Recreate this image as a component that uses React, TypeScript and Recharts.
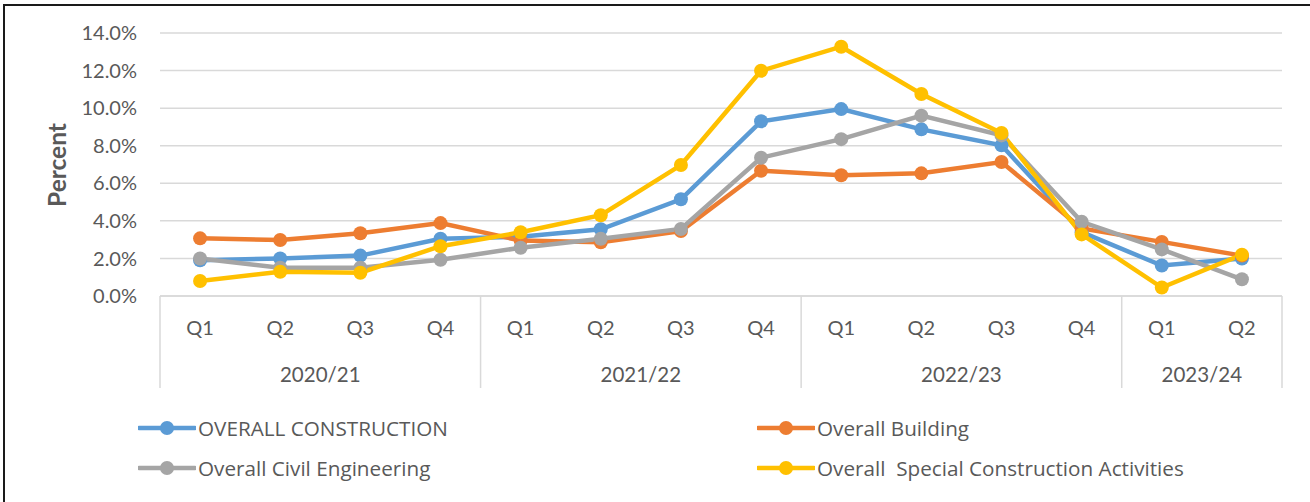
import React from 'react';
import { LineChart, Line, XAxis, YAxis, CartesianGrid } from 'recharts';

const QUARTERS = ['Q1', 'Q2', 'Q3', 'Q4', 'Q1', 'Q2', 'Q3', 'Q4', 'Q1', 'Q2', 'Q3', 'Q4', 'Q1', 'Q2'];
const FISCAL_YEARS = [
  '2020/21', '2020/21', '2020/21', '2020/21',
  '2021/22', '2021/22', '2021/22', '2021/22',
  '2022/23', '2022/23', '2022/23', '2022/23',
  '2023/24', '2023/24'
];

const OVERALL_CONSTRUCTION = [1.9, 2.0, 2.15, 3.05, 3.15, 3.55, 5.15, 9.3, 9.95, 8.87, 8.02, 3.4, 1.62, 2.0];
const OVERALL_BUILDING = [3.07, 2.98, 3.34, 3.88, 2.95, 2.86, 3.46, 6.67, 6.43, 6.53, 7.13, 3.6, 2.88, 2.15];
const OVERALL_CIVIL = [2.0, 1.5, 1.5, 1.93, 2.57, 3.05, 3.57, 7.36, 8.35, 9.6, 8.55, 3.95, 2.48, 0.89];
const OVERALL_SPECIAL = [0.8, 1.29, 1.24, 2.65, 3.39, 4.3, 6.97, 11.99, 13.27, 10.75, 8.68, 3.28, 0.45, 2.2];

const Y_TICKS = [0, 2, 4, 6, 8, 10, 12, 14];

const SERIES = [
  { key: 'construction', name: 'OVERALL CONSTRUCTION', color: '#5B9BD5', values: OVERALL_CONSTRUCTION },
  { key: 'building', name: 'Overall Building', color: '#ED7D31', values: OVERALL_BUILDING },
  { key: 'civil', name: 'Overall Civil Engineering', color: '#A5A5A5', values: OVERALL_CIVIL },
  { key: 'special', name: 'Overall  Special Construction Activities', color: '#FFC000', values: OVERALL_SPECIAL }
];

const data = QUARTERS.map((q, i) => {
  const row: Record<string, string | number> = { q, year: FISCAL_YEARS[i] };
  SERIES.forEach(s => { row[s.key] = s.values[i]; });
  return row;
});

const FONT = 'Lato, "Liberation Sans", sans-serif';
const LEGEND_FONT = '"Open Sans", Lato, sans-serif';
const TEXT = '#595959';
const GRID = '#d9d9d9';
const W = 1310;
const H = 502;
const PLOT_LEFT = 160;
const PLOT_RIGHT = 1282;
const STEP = (PLOT_RIGHT - PLOT_LEFT) / QUARTERS.length;

const QuarterTick = (props: any) => {
  const { x, y, payload } = props;
  const i = payload.index;
  const yr = FISCAL_YEARS[i];
  const isFirst = i === 0 || FISCAL_YEARS[i - 1] !== yr;
  const isLast = i === FISCAL_YEARS.length - 1;
  const groupSize = FISCAL_YEARS.filter(v => v === yr).length;
  return (
    <g>
      <text x={x} y={y + 31} textAnchor="middle" dominantBaseline="central" fill={TEXT} fontSize={20} fontFamily={FONT}>
        {payload.value}
      </text>
      {isFirst && (
        <>
          <line x1={x - STEP / 2} x2={x - STEP / 2} y1={y} y2={y + 92} stroke={GRID} strokeWidth={1.5} />
          <text x={x + ((groupSize - 1) * STEP) / 2} y={y + 78} textAnchor="middle" dominantBaseline="central" fill={TEXT} fontSize={20.5} fontFamily={FONT}>
            {yr}
          </text>
        </>
      )}
      {isLast && <line x1={x + STEP / 2} x2={x + STEP / 2} y1={y} y2={y + 92} stroke={GRID} strokeWidth={1.5} />}
    </g>
  );
};

const PercentLabel = () => (
  <text x={56} y={165} transform="rotate(-90 56 165)" textAnchor="middle" dominantBaseline="central" fill={TEXT} fontSize={24.5} fontWeight="bold" fontFamily={FONT}>
    Percent
  </text>
);

const LegendItem = ({ name, color, left, top }: { name: string; color: string; left: number; top: number }) => (
  <div style={{ position: 'absolute', left, top: top - 12, height: 24, display: 'flex', alignItems: 'center' }}>
    <svg width={58} height={24}>
      <line x1={1} x2={57} y1={12} y2={12} stroke={color} strokeWidth={4.5} strokeLinecap="round" />
      <circle cx={29} cy={12} r={7} fill={color} />
    </svg>
    <span style={{ marginLeft: 2, fontSize: 20.7, color: TEXT, whiteSpace: 'pre', fontFamily: LEGEND_FONT }}>{name}</span>
  </div>
);

const LEGEND_POS = [
  { left: 138, top: 428 },
  { left: 757, top: 428 },
  { left: 138, top: 468 },
  { left: 757, top: 468 }
];

export default function App() {
  return (
    <div style={{ position: 'relative', width: W, height: H, background: '#fff', overflow: 'hidden', fontFamily: FONT }}>
      <style>{'body{margin:0;overflow:hidden}'}</style>
      <div style={{ position: 'absolute', left: 3, top: 4, width: W, height: H, borderTop: '2px solid #1a1a1a', borderLeft: '2px solid #1a1a1a' }} />
      <div style={{ position: 'absolute', left: 0, top: 0 }}>
        <LineChart width={W} height={H} data={data} margin={{ top: 33, right: W - PLOT_RIGHT, bottom: 114, left: 0 }}>
          <CartesianGrid vertical={false} stroke={GRID} strokeWidth={1.5} />
          <XAxis
            dataKey="q"
            height={92}
            interval={0}
            tickLine={false}
            tickSize={0}
            tickMargin={0}
            axisLine={{ stroke: GRID, strokeWidth: 1.5 }}
            padding={{ left: STEP / 2, right: STEP / 2 }}
            tick={<QuarterTick />}
          />
          <YAxis
            width={PLOT_LEFT}
            domain={[0, 14]}
            ticks={Y_TICKS}
            interval={0}
            axisLine={false}
            tickLine={false}
            tickSize={0}
            tickMargin={23}
            tickFormatter={(v: number) => `${v.toFixed(1)}%`}
            tick={{ fill: TEXT, fontSize: 20, fontFamily: FONT }}
            label={<PercentLabel />}
          />
          {SERIES.map(s => (
            <Line
              key={s.key}
              dataKey={s.key}
              name={s.name}
              stroke={s.color}
              strokeWidth={4.5}
              dot={{ r: 7, fill: s.color, stroke: s.color, strokeWidth: 0 }}
              activeDot={false}
              isAnimationActive={false}
            />
          ))}
        </LineChart>
      </div>
      {SERIES.map((s, i) => (
        <LegendItem key={s.key} name={s.name} color={s.color} left={LEGEND_POS[i].left} top={LEGEND_POS[i].top} />
      ))}
    </div>
  );
}
